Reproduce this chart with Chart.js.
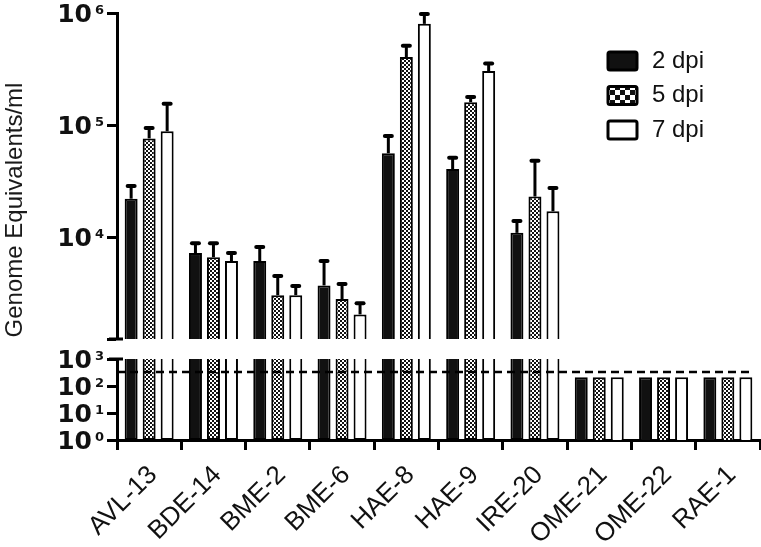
<!DOCTYPE html>
<html>
<head>
<meta charset="utf-8">
<script src="https://cdn.jsdelivr.net/npm/chart.js@4.4.1/dist/chart.umd.min.js"></script>
<style>
  html, body { margin: 0; padding: 0; background: #fff; }
</style>
</head>
<body>
<canvas id="genomes" width="761" height="547"></canvas>
<script>
var isolates = ['AVL-13', 'BDE-14', 'BME-2', 'BME-6', 'HAE-8', 'HAE-9', 'IRE-20', 'OME-21', 'OME-22', 'RAE-1'];
var seriesNames = ['2 dpi', '5 dpi', '7 dpi'];
var dpi2 = [22000, 7200, 6100, 3700, 56000, 40500, 10900, 210, 210, 210];
var dpi2Err = [28500, 8800, 8150, 6100, 80000, 51000, 13900, null, null, null];
var dpi5 = [76000, 6600, 3030, 2800, 405000, 160000, 23000, 210, 210, 210];
var dpi5Err = [94000, 8800, 4500, 3800, 510000, 178000, 48000, null, null, null];
var dpi7 = [88000, 6100, 3030, 2040, 800000, 303000, 17000, 210, 210, 210];
var dpi7Err = [155000, 7200, 3650, 2570, 980000, 355000, 27400, null, null, null];
var upperTicks = [1e4, 1e5, 1e6];
var lowerTicks = [1, 10, 100, 1000];
var upperMin = 1230;
var lowerMax = 1000;
var detectionLimit = 330;

function checker(size) {
  var c = document.createElement('canvas');
  c.width = c.height = size * 2;
  var g = c.getContext('2d');
  g.fillStyle = '#fff';
  g.fillRect(0, 0, size * 2, size * 2);
  g.fillStyle = '#111';
  g.fillRect(0, 0, size, size);
  g.fillRect(size, size, size, size);
  return g.createPattern(c, 'repeat');
}

var values = [dpi2, dpi5, dpi7];
var errors = [dpi2Err, dpi5Err, dpi7Err];
var fills = ['#111111', checker(2), '#ffffff'];
var legendFills = ['#111111', checker(5), '#ffffff'];

var datasets = [];
// upper (broken) segment
seriesNames.forEach(function(name, i) {
  datasets.push({
    label: name,
    data: values[i].map(function(v) { return v >= upperMin ? v : null; }),
    errors: errors[i],
    yAxisID: 'yUpper',
    stack: 's' + i,
    backgroundColor: fills[i],
    borderColor: '#000',
    borderWidth: 2
  });
});
// lower segment
seriesNames.forEach(function(name, i) {
  datasets.push({
    label: name,
    data: values[i].map(function(v) { return Math.min(v, lowerMax); }),
    yAxisID: 'yLower',
    stack: 's' + i,
    backgroundColor: fills[i],
    borderColor: '#000',
    borderWidth: 2,
    borderSkipped: function(c) { return c.raw >= lowerMax ? 'end' : 'start'; }
  });
});

var axisGrid = { display: true, drawOnChartArea: false, drawTicks: true, tickLength: 10, tickWidth: 3, color: '#000' };
var axisBorder = { display: true, width: 3, color: '#000' };

// y tick labels as 10 with a raised exponent
function drawPowerTicks(ctx, scale, skip) {
  scale.ticks.forEach(function(t) {
    if (t.value === skip) return;
    var y = scale.getPixelForValue(t.value);
    var exp = String(Math.round(Math.log10(t.value)));
    ctx.font = 'bold 13px "DejaVu Sans"';
    var ew = ctx.measureText(exp).width;
    var right = scale.right - 13;
    ctx.fillText(exp, right - ew, y + 0.5);
    ctx.font = 'bold 25px "DejaVu Sans"';
    var bw = ctx.measureText('10').width;
    ctx.fillText('10', right - ew - 3 - bw, y + 9);
  });
}

var extras = {
  id: 'extras',
  afterDatasetsDraw: function(chart) {
    var ctx = chart.ctx;
    var yU = chart.scales.yUpper;
    var yL = chart.scales.yLower;
    var area = chart.chartArea;
    ctx.save();
    ctx.strokeStyle = '#000';
    chart.data.datasets.forEach(function(ds, di) {
      if (!ds.errors) return;
      chart.getDatasetMeta(di).data.forEach(function(bar, i) {
        var e = ds.errors[i];
        if (e == null || ds.data[i] == null) return;
        var yTop = yU.getPixelForValue(e);
        ctx.lineWidth = 3;
        ctx.lineCap = 'butt';
        ctx.beginPath();
        ctx.moveTo(bar.x, bar.y);
        ctx.lineTo(bar.x, yTop);
        ctx.stroke();
        ctx.lineWidth = 4;
        ctx.lineCap = 'round';
        ctx.beginPath();
        ctx.moveTo(bar.x - 3.5, yTop);
        ctx.lineTo(bar.x + 3.5, yTop);
        ctx.stroke();
      });
    });
    // detection limit
    var yd = yL.getPixelForValue(detectionLimit);
    ctx.lineWidth = 2.5;
    ctx.lineCap = 'butt';
    ctx.setLineDash([8, 5]);
    ctx.beginPath();
    ctx.moveTo(area.left, yd);
    ctx.lineTo(area.right - 7, yd);
    ctx.stroke();
    ctx.setLineDash([]);
    // axis break caps
    ctx.lineWidth = 3;
    [yU.bottom, yL.top].forEach(function(y) {
      ctx.beginPath();
      ctx.moveTo(area.left - 8, y);
      ctx.lineTo(area.left + 6, y);
      ctx.stroke();
    });
    ctx.restore();
  },
  afterDraw: function(chart) {
    var ctx = chart.ctx;
    var area = chart.chartArea;
    ctx.save();
    ctx.fillStyle = '#111';
    ctx.textAlign = 'left';
    ctx.textBaseline = 'alphabetic';
    drawPowerTicks(ctx, chart.scales.yUpper, upperMin);
    drawPowerTicks(ctx, chart.scales.yLower, null);
    // legend
    var lx = area.right - 153, ly = area.top + 38;
    ctx.font = '24px "Liberation Sans", Arial, sans-serif';
    ctx.textBaseline = 'middle';
    seriesNames.forEach(function(name, i) {
      var y = ly + i * 34.5;
      ctx.beginPath();
      ctx.roundRect(lx + 1, y + 1, 29, 18, 2);
      ctx.fillStyle = legendFills[i];
      ctx.fill();
      ctx.lineWidth = 3;
      ctx.strokeStyle = '#000';
      ctx.stroke();
      ctx.fillStyle = '#111';
      ctx.fillText(name, lx + 45, y + 10);
    });
    // y axis title
    ctx.translate(22, area.top + 197);
    ctx.rotate(-Math.PI / 2);
    ctx.textAlign = 'center';
    ctx.textBaseline = 'alphabetic';
    ctx.fillStyle = '#1a1a1a';
    ctx.font = '24px "Liberation Sans", Arial, sans-serif';
    ctx.fillText('Genome Equivalents/ml', 0, 0);
    ctx.restore();
  }
};

new Chart(document.getElementById('genomes'), {
  type: 'bar',
  data: { labels: isolates, datasets: datasets },
  plugins: [extras],
  options: {
    responsive: false,
    animation: false,
    categoryPercentage: 0.84,
    barPercentage: 0.72,
    layout: { padding: { top: 13, left: 0, right: 1, bottom: 0 } },
    plugins: { legend: { display: false }, tooltip: { enabled: false } },
    scales: {
      x: {
        type: 'category',
        offset: true,
        grid: axisGrid,
        border: axisBorder,
        ticks: {
          color: '#111',
          font: { family: 'Liberation Sans', size: 26 },
          minRotation: 45,
          maxRotation: 45,
          autoSkip: false,
          padding: 10,
          labelOffset: 4
        },
        afterFit: function(s) { s.height = 107; }
      },
      yLower: {
        type: 'logarithmic',
        position: 'left',
        stack: 'v',
        stackWeight: 81,
        stacked: false,
        min: 1,
        max: lowerMax,
        grid: axisGrid,
        border: axisBorder,
        afterBuildTicks: function(s) {
          s.ticks = lowerTicks.map(function(v) { return { value: v }; });
        },
        ticks: { display: false, autoSkip: false },
        afterFit: function(s) { s.width = 117; }
      },
      yGap: {
        type: 'linear',
        position: 'left',
        stack: 'v',
        stackWeight: 20,
        grid: { display: false },
        border: { display: false },
        ticks: { display: false },
        afterFit: function(s) { s.width = 117; }
      },
      yUpper: {
        type: 'logarithmic',
        position: 'left',
        stack: 'v',
        stackWeight: 326,
        stacked: false,
        min: upperMin,
        max: 1e6,
        grid: axisGrid,
        border: axisBorder,
        afterBuildTicks: function(s) {
          s.ticks = [{ value: upperMin }].concat(upperTicks.map(function(v) { return { value: v }; }));
        },
        ticks: { display: false, autoSkip: false },
        afterFit: function(s) { s.width = 117; }
      }
    }
  }
});
</script>
</body>
</html>
